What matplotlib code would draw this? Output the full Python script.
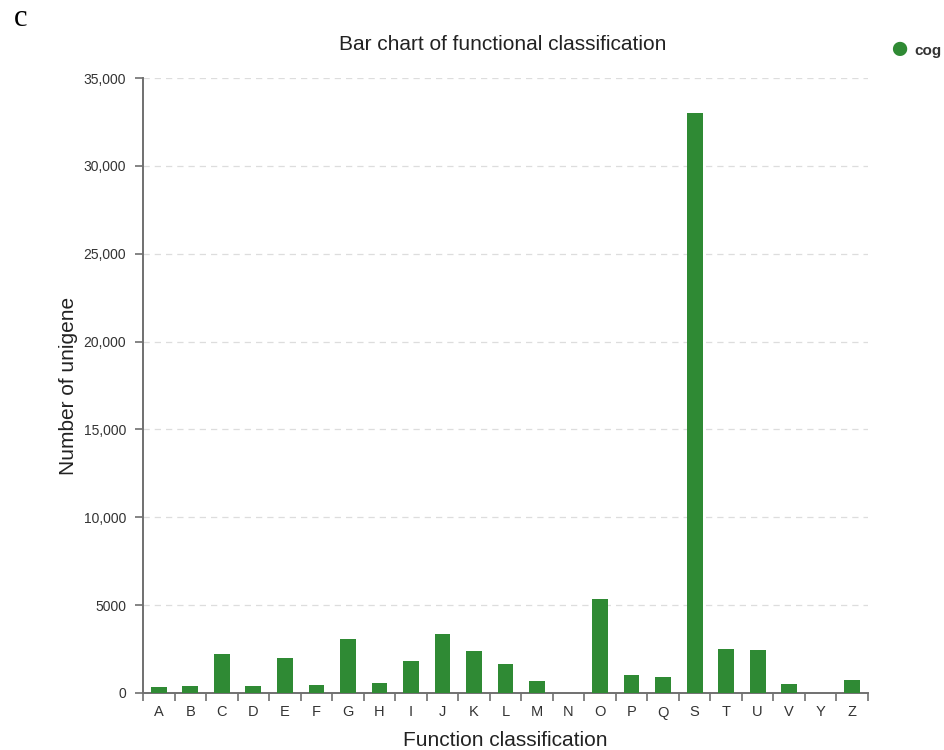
import numpy as np
import matplotlib.pyplot as plt
from matplotlib.ticker import FuncFormatter

categories = ['A', 'B', 'C', 'D', 'E', 'F', 'G', 'H', 'I', 'J', 'K', 'L',
              'M', 'N', 'O', 'P', 'Q', 'S', 'T', 'U', 'V', 'Y', 'Z']
counts = [320, 400, 2220, 400, 2000, 450, 3070, 590, 1800, 3350, 2370, 1650,
          660, 0, 5360, 1020, 890, 33000, 2500, 2430, 500, 0, 720]
y_ticks = [0, 5000, 10000, 15000, 20000, 25000, 30000, 35000]

bar_color = '#2f8a34'
axis_color = '#707070'

plt.rcParams['font.family'] = ['Liberation Sans', 'DejaVu Sans']

fig = plt.figure(figsize=(9.44, 7.5), dpi=100)
ax = fig.add_axes([0.1515, 0.076, 0.768, 0.82])

x = np.arange(len(categories))
ax.bar(x, counts, width=0.5, color=bar_color, zorder=3)

ax.set_xlim(-0.5, len(categories) - 0.5)
ax.set_ylim(0, 35000)

# grid lines
ax.set_yticks(y_ticks)
ax.yaxis.set_major_formatter(FuncFormatter(
    lambda v, p: f'{int(v):,}' if v >= 10000 else f'{int(v)}'))
for yv in y_ticks[1:]:
    ax.axhline(yv, color='#dddddd', lw=0.9, ls=(0, (5, 4)), zorder=1)

# category ticks sit on the boundaries, labels centered on bars
ax.set_xticks(np.arange(len(categories) + 1) - 0.5)
ax.set_xticklabels([])
ax.set_xticks(x, minor=True)
ax.set_xticklabels(categories, minor=True)
ax.tick_params(axis='x', which='minor', length=0, pad=9, labelsize=10.5, labelcolor='#333333')
ax.tick_params(axis='x', which='major', length=6, width=1.2, color=axis_color)
ax.tick_params(axis='y', length=6, width=1.2, color=axis_color, labelsize=10, labelcolor='#333333', pad=6)

for side in ['top', 'right']:
    ax.spines[side].set_visible(False)
for side in ['left', 'bottom']:
    ax.spines[side].set_color(axis_color)
    ax.spines[side].set_linewidth(1.4)

ax.set_ylabel('Number of unigene', fontsize=15, color='#222222', labelpad=4)
ax.set_xlabel('Function classification', fontsize=15, color='#222222', labelpad=8)

fig.text(0.532, 0.94, 'Bar chart of functional classification', ha='center', va='center',
         fontsize=15, color='#222222')
fig.text(0.015, 0.975, 'c', ha='left', va='center', fontsize=22, family='Liberation Serif')

# legend
fig.text(0.952, 0.934, '\u25cf', ha='center', va='center', fontsize=24, color=bar_color)
fig.text(0.969, 0.932, 'cog', ha='left', va='center', fontsize=11, fontweight='bold', color='#333333')

fig.savefig('out.png', dpi=100)
